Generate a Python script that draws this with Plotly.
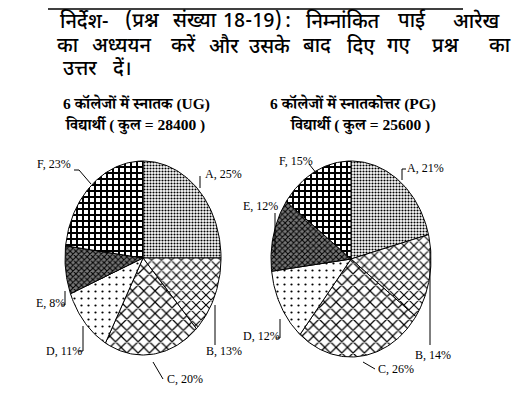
import numpy as np
import plotly.graph_objects as go

categories = ["A", "B", "C", "D", "E", "F"]
ug_values = [25, 13, 20, 11, 8, 23]
pg_values = [21, 14, 26, 12, 12, 15]

header_lines = [
    "निर्देश- (प्रश्न संख्या 18-19) : निम्नांकित पाई आरेख",
    "का अध्ययन करें और उसके बाद दिए गए प्रश्न का",
    "उत्तर दें।",
]
ug_title = ["6 कॉलेजों में स्नातक (UG)", "विद्यार्थी ( कुल = 28400 )"]
pg_title = ["6 कॉलेजों में स्नातकोत्तर (PG)", "विद्यार्थी ( कुल = 25600 )"]

# word centres (pixels) used to justify the header lines like the original
header_word_x = [
    [76, 134, 187, 244, 280, 335, 404, 468],
    [60, 113, 175, 216, 262, 309, 353, 391, 437, 492],
    [72, 114],
]
header_y = [14, 39, 62]

patterns = {
    "A": dict(shape=".", size=3, solidity=0.4, bg="white"),
    "B": dict(shape="x", size=7, solidity=0.3, bg="white"),
    "C": dict(shape="x", size=8, solidity=0.28, bg="white"),
    "D": dict(shape=".", size=7, solidity=0.08, bg="white"),
    "E": dict(shape="x", size=4, solidity=0.45, bg="#777777"),
    "F": dict(shape="+", size=6, solidity=0.55, bg="white"),
}

HFONT = "Noto Sans Devanagari, Lohit Devanagari, Noto Serif Devanagari, Noto Sans, sans-serif"
SFONT = "Liberation Serif, Noto Serif Devanagari, Noto Sans Devanagari, serif"

fig = go.Figure()


def add_pie(values, cx, cy, rx, ry):
    total = sum(values)
    start = 0.0
    for cat, v in zip(categories, values):
        a0 = start / total * 2 * np.pi
        a1 = (start + v) / total * 2 * np.pi
        t = np.linspace(a0, a1, max(int(v * 3), 8))
        xs = np.concatenate([[cx], cx + rx * np.sin(t), [cx]])
        ys = np.concatenate([[cy], cy - ry * np.cos(t), [cy]])
        p = patterns[cat]
        fig.add_trace(go.Scatter(
            x=xs, y=ys, mode="lines", fill="toself",
            line=dict(color="black", width=1),
            fillcolor=p["bg"],
            fillpattern=dict(shape=p["shape"], size=p["size"], solidity=p["solidity"],
                             fgcolor="black", bgcolor=p["bg"], fillmode="replace"),
            hoverinfo="skip", showlegend=False,
        ))
        start += v


add_pie(ug_values, 135, 250, 78, 97)
add_pie(pg_values, 343, 251, 80, 98)

# header rule
fig.add_shape(type="line", x0=40, x1=455, y0=1, y1=1, line=dict(color="black", width=1.5))

for line, xs, y in zip(header_lines, header_word_x, header_y):
    words = line.split()
    for w, x in zip(words, xs):
        fig.add_annotation(x=x, y=y, text=w, showarrow=False, xanchor="center",
                           yanchor="middle",
                           font=dict(family=HFONT, size=20, color="black", weight=500))

for txt, x, y in [(ug_title[0], 53, 95), (ug_title[1], 55, 117),
                  (pg_title[0], 260, 95), (pg_title[1], 280, 117)]:
    fig.add_annotation(x=x, y=y, text="<b>" + txt + "</b>", showarrow=False, xanchor="left",
                       yanchor="middle", font=dict(family=SFONT, size=15.5, color="black"))


def label(cat, v, x, y, anchor="left"):
    fig.add_annotation(x=x, y=y, text=f"{cat}, {v}%", showarrow=False, xanchor=anchor,
                       yanchor="middle", font=dict(family=SFONT, size=12, color="black"))


def leader(pts):
    xs, ys = zip(*pts)
    fig.add_trace(go.Scatter(x=list(xs), y=list(ys), mode="lines",
                             line=dict(color="black", width=1), hoverinfo="skip",
                             showlegend=False))


u = dict(zip(categories, ug_values))
g = dict(zip(categories, pg_values))

# UG labels
label("F", u["F"], 27, 156)
leader([(66, 162), (71, 162), (83, 176)])
label("A", u["A"], 195, 166)
leader([(192, 168), (192, 180)])
label("B", u["B"], 196, 343)
leader([(207, 297), (207, 337)])
label("C", u["C"], 157, 371)
leader([(155, 371), (145, 354)])
label("D", u["D"], 36, 343)
leader([(70, 343), (75, 343), (75, 318)])
label("E", u["E"], 26, 295)
leader([(54, 297), (57, 297), (57, 283)])

# PG labels
label("F", g["F"], 269, 153)
leader([(301, 156), (309, 166)])
label("A", g["A"], 397, 160)
leader([(398, 161), (394, 161), (394, 172)])
label("E", g["E"], 233, 198)
leader([(267, 205), (267, 247)])
label("D", g["D"], 233, 328)
leader([(268, 330), (272, 330), (272, 311)])
label("B", g["B"], 405, 347)
leader([(422, 240), (422, 337)])
label("C", g["C"], 368, 361)
leader([(367, 361), (355, 354)])

fig.update_layout(
    width=520, height=398, margin=dict(l=0, r=0, t=0, b=0),
    paper_bgcolor="white", plot_bgcolor="white",
    xaxis=dict(range=[0, 520], visible=False, fixedrange=True),
    yaxis=dict(range=[398, 0], visible=False, fixedrange=True),
)

fig.write_html("out.html")
